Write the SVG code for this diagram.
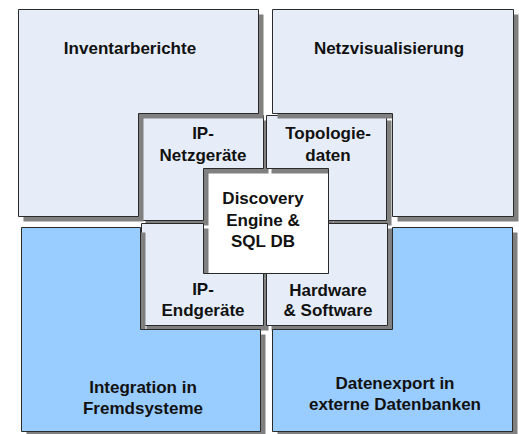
<svg xmlns="http://www.w3.org/2000/svg" width="519" height="434" viewBox="0 0 519 434">
  <style>
    .shadow { fill: #808080; stroke: none; }
    .light { fill: #E6EDF8; stroke: #2a2a2a; stroke-width: 1; }
    .blue { fill: #99CCFF; stroke: #2a2a2a; stroke-width: 1; }
    .core { fill: #FFFFFF; stroke: #2a2a2a; stroke-width: 1; }
    .lbl { font-family: "Liberation Sans", Arial, sans-serif; font-weight: bold; font-size: 17px; fill: #111111; text-anchor: middle; }
  </style>
  <rect width="519" height="434" fill="#FFFFFF"/>

  <!-- centre block -->
  <g id="discovery-engine">
    <rect class="shadow" x="208.5" y="173.5" width="125" height="105"/>
    <rect class="core" x="203.5" y="168.5" width="125" height="105"/>
    <text class="lbl" x="263" y="204">Discovery</text>
    <text class="lbl" x="263" y="226">Engine &amp;</text>
    <text class="lbl" x="263" y="247">SQL DB</text>
  </g>

  <!-- inner ring -->
  <g id="ip-netzgeraete">
    <polygon class="shadow" transform="translate(5 5)" points="140.5,115.5 263.5,115.5 263.5,168.5 203.5,168.5 203.5,220.5 140.5,220.5"/>
    <polygon class="light" points="140.5,115.5 263.5,115.5 263.5,168.5 203.5,168.5 203.5,220.5 140.5,220.5"/>
    <text class="lbl" x="203" y="139">IP-</text>
    <text class="lbl" x="203" y="161">Netzgeräte</text>
  </g>
  <g id="topologiedaten">
    <polygon class="shadow" transform="translate(5 5)" points="266.5,115.5 386.5,115.5 386.5,220.5 328.5,220.5 328.5,168.5 266.5,168.5"/>
    <polygon class="light" points="266.5,115.5 386.5,115.5 386.5,220.5 328.5,220.5 328.5,168.5 266.5,168.5"/>
    <text class="lbl" x="328" y="139">Topologie-</text>
    <text class="lbl" x="328" y="161">daten</text>
  </g>
  <g id="ip-endgeraete">
    <polygon class="shadow" transform="translate(5 5)" points="141.5,223.5 203.5,223.5 203.5,273.5 263.5,273.5 263.5,325.5 141.5,325.5"/>
    <polygon class="light" points="141.5,223.5 203.5,223.5 203.5,273.5 263.5,273.5 263.5,325.5 141.5,325.5"/>
    <text class="lbl" x="203" y="295">IP-</text>
    <text class="lbl" x="203" y="316">Endgeräte</text>
  </g>
  <g id="hardware-software">
    <polygon class="shadow" transform="translate(5 5)" points="328.5,223.5 387.5,223.5 387.5,325.5 266.5,325.5 266.5,273.5 328.5,273.5"/>
    <polygon class="light" points="328.5,223.5 387.5,223.5 387.5,325.5 266.5,325.5 266.5,273.5 328.5,273.5"/>
    <text class="lbl" x="328" y="296">Hardware</text>
    <text class="lbl" x="328" y="316">&amp; Software</text>
  </g>

  <!-- outer ring -->
  <g id="inventarberichte">
    <polygon class="shadow" transform="translate(5 5)" points="18.5,9.5 258.5,9.5 258.5,113.5 138.5,113.5 138.5,216.5 18.5,216.5"/>
    <polygon class="light" points="18.5,9.5 258.5,9.5 258.5,113.5 138.5,113.5 138.5,216.5 18.5,216.5"/>
    <text class="lbl" x="130" y="54">Inventarberichte</text>
  </g>
  <g id="netzvisualisierung">
    <polygon class="shadow" transform="translate(5 5)" points="272.5,9.5 513.5,9.5 513.5,216.5 392.5,216.5 392.5,113.5 272.5,113.5"/>
    <polygon class="light" points="272.5,9.5 513.5,9.5 513.5,216.5 392.5,216.5 392.5,113.5 272.5,113.5"/>
    <text class="lbl" x="389" y="54">Netzvisualisierung</text>
  </g>
  <g id="integration">
    <polygon class="shadow" transform="translate(5 5)" points="21.5,227.5 140.5,227.5 140.5,329.5 260.5,329.5 260.5,431.5 21.5,431.5"/>
    <polygon class="blue" points="21.5,227.5 140.5,227.5 140.5,329.5 260.5,329.5 260.5,431.5 21.5,431.5"/>
    <text class="lbl" x="143" y="393">Integration in</text>
    <text class="lbl" x="143" y="414">Fremdsysteme</text>
  </g>
  <g id="datenexport">
    <polygon class="shadow" transform="translate(5 5)" points="392.5,227.5 512.5,227.5 512.5,431.5 272.5,431.5 272.5,329.5 392.5,329.5"/>
    <polygon class="blue" points="392.5,227.5 512.5,227.5 512.5,431.5 272.5,431.5 272.5,329.5 392.5,329.5"/>
    <text class="lbl" x="395" y="389">Datenexport in</text>
    <text class="lbl" x="395" y="410">externe Datenbanken</text>
  </g>
</svg>
